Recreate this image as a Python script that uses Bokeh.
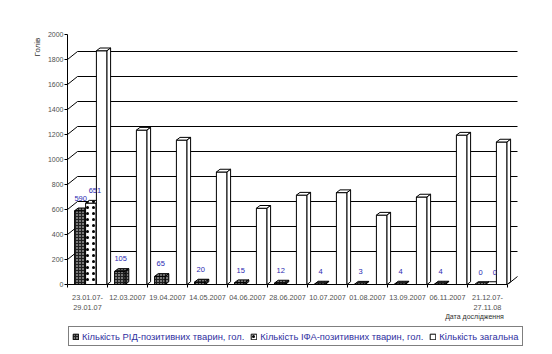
from bokeh.plotting import figure
from bokeh.layouts import column
from bokeh.models import (Range1d, FixedTicker, Legend, LegendItem,
                          ColumnDataSource, LinearAxis)
from bokeh.core.properties import value
from bokeh.embed import file_html
from bokeh.resources import INLINE

# ---------------- data ----------------
categories = ["23.01.07-\n29.01.07", "12.03.2007", "19.04.2007", "14.05.2007",
              "04.06.2007", "28.06.2007", "10.07.2007", "01.08.2007",
              "13.09.2007", "06.11.2007", "21.12.07-\n27.11.08"]
rid_positive = [590, 105, 65, 20, 15, 12, 4, 3, 4, 4, 0]
ifa_positive = [651, None, None, None, None, None, None, None, None, None, 0]
total_count = [1870, 1235, 1155, 900, 610, 715, 735, 555, 700, 1195, 1140]
y_ticks = [0, 200, 400, 600, 800, 1000, 1200, 1400, 1600, 1800, 2000]
series_names = ["Кількість РІД-позитивних тварин, гол.",
                "Кількість ІФА-позитивних тварин, гол.",
                "Кількість загальна"]
y_title = "Голів"
x_title = "Дата дослідження"

# ---------------- layout / style constants ----------------
FONT = "Liberation Sans"
n = len(categories)
bar_w = 0.265
offsets = [0.31, 0.585, 0.855]
ddx, ddy = 0.09, 22          # bar depth (data units)
wdx, wdy = 0.25, 64          # wall depth (data units)

STYLES = [
    dict(fill_color="#202020", line_color="black", hatch_pattern=".",
         hatch_color="white", hatch_scale=3, hatch_weight=1),
    dict(fill_color="white", line_color="black", hatch_pattern=".",
         hatch_color="black", hatch_scale=6, hatch_weight=1),
    dict(fill_color="white", line_color="black"),
]

p = figure(width=552, height=326, frame_width=458, frame_height=264,
           output_backend="svg", toolbar_location=None,
           x_range=Range1d(0, 11.45), y_range=Range1d(0, 2112),
           min_border_left=67, min_border_right=27, min_border_top=20,
           min_border_bottom=42, x_axis_type=None, y_axis_type=None)
p.outline_line_color = None
p.xgrid.visible = False
p.ygrid.visible = False

# back wall grid lines + diagonal connectors
grid_vals = [v for v in y_ticks if 0 < v < y_ticks[-1]]
p.segment(x0=[0] * len(grid_vals), y0=grid_vals,
          x1=[wdx] * len(grid_vals), y1=[v + wdy for v in grid_vals],
          line_color="black", line_width=1)
p.segment(x0=[wdx] * len(grid_vals), y0=[v + wdy for v in grid_vals],
          x1=[n + wdx] * len(grid_vals), y1=[v + wdy for v in grid_vals],
          line_color="black", line_width=1)
p.segment(x0=[n], y0=[0], x1=[n + wdx], y1=[wdy], line_color="black", line_width=1)


def draw_series(vals, off, style):
    idx = [i for i, v in enumerate(vals) if v is not None]
    xs = [i + off for i in idx]
    tops = [vals[i] for i in idx]
    src = ColumnDataSource(dict(x=xs, top=tops))
    p.vbar(x="x", top="top", bottom=0, width=bar_w, source=src, line_width=1, **style)
    top_xs, top_ys, side_xs, side_ys = [], [], [], []
    for x, t in zip(xs, tops):
        x0, x1 = x - bar_w / 2, x + bar_w / 2
        top_xs.append([x0, x1, x1 + ddx, x0 + ddx])
        top_ys.append([t, t, t + ddy, t + ddy])
        side_xs.append([x1, x1 + ddx, x1 + ddx, x1])
        side_ys.append([0, ddy, t + ddy, t])
    p.patches(top_xs, top_ys, line_width=1, **style)
    p.patches(side_xs, side_ys, line_width=1, **style)
    return xs, tops


x1s, t1s = draw_series(rid_positive, offsets[0], STYLES[0])
x2s, t2s = draw_series(ifa_positive, offsets[1], STYLES[1])
draw_series(total_count, offsets[2], STYLES[2])

# data labels
lab_kw = dict(text_font=value(FONT), text_font_size="7.5px", text_align="center",
              text_baseline="bottom", text_color="#2a2ab0")
p.text(x=[x + 0.02 for x in x1s], y=[t + 80 for t in t1s],
       text=[str(t) for t in t1s], **lab_kw)
p.text(x=[x + 0.1 for x in x2s], y=[t + 80 for t in t2s],
       text=[str(t) for t in t2s], **lab_kw)


def bare(axis):
    axis.axis_line_color = None
    axis.major_tick_line_color = None
    axis.minor_tick_line_color = None
    axis.major_tick_out = 0
    axis.major_tick_in = 0
    axis.minor_tick_out = 0
    axis.minor_tick_in = 0


# ---- y axis ----
yaxis = LinearAxis(ticker=FixedTicker(ticks=y_ticks, minor_ticks=[]),
                   bounds=(0, y_ticks[-1]))
yaxis.major_tick_out = 3
yaxis.major_tick_in = 0
yaxis.minor_tick_out = 0
yaxis.major_label_standoff = 1
yaxis.major_label_text_font = FONT
yaxis.major_label_text_font_size = "7px"
yaxis.major_label_text_color = "#505050"
yaxis.axis_line_color = "black"
p.add_layout(yaxis, "left")

# y title, placed near the top as a single tick label
ytitle_axis = LinearAxis(ticker=FixedTicker(ticks=[1900], minor_ticks=[]))
bare(ytitle_axis)
ytitle_axis.major_label_overrides = {1900: y_title}
ytitle_axis.major_label_orientation = "vertical"
ytitle_axis.major_label_standoff = 3
ytitle_axis.major_label_text_font = FONT
ytitle_axis.major_label_text_font_size = "8px"
ytitle_axis.major_label_text_color = "#303030"
p.add_layout(ytitle_axis, "left")

# ---- x axis ----
centers = [i + 0.5 for i in range(n)]
xaxis = LinearAxis(ticker=FixedTicker(ticks=centers, minor_ticks=list(range(n + 1))),
                   bounds=(0, n))
xaxis.major_label_overrides = {c: lab for c, lab in zip(centers, categories)}
xaxis.major_tick_out = 0
xaxis.major_tick_in = 0
xaxis.minor_tick_out = 3
xaxis.minor_tick_in = 0
xaxis.minor_tick_line_color = "black"
xaxis.major_label_standoff = 5
xaxis.major_label_text_font = FONT
xaxis.major_label_text_font_size = "7.3px"
xaxis.major_label_text_color = "#505050"
xaxis.axis_line_color = "black"
p.add_layout(xaxis, "below")

# x title at the right, as a single tick label of a second bottom axis
xtitle_axis = LinearAxis(ticker=FixedTicker(ticks=[10.175], minor_ticks=[]))
bare(xtitle_axis)
xtitle_axis.major_label_overrides = {10.175: x_title}
xtitle_axis.major_label_standoff = -3
xtitle_axis.major_label_text_font = FONT
xtitle_axis.major_label_text_font_size = "7px"
xtitle_axis.major_label_text_color = "#303030"
p.add_layout(xtitle_axis, "below")

# ---- legend strip under the chart ----
lg = figure(width=552, height=28, output_backend="svg", toolbar_location=None,
            x_range=Range1d(0, 1), y_range=Range1d(0, 1),
            min_border_left=67, min_border_right=0, min_border_top=0,
            min_border_bottom=0, x_axis_type=None, y_axis_type=None)
lg.outline_line_color = None
lg.xgrid.visible = False
lg.ygrid.visible = False
items = []
for name, style in zip(series_names, STYLES):
    # swatch renderers sit outside the visible range; only their legend glyphs show
    r = lg.vbar(x=[-5], top=[-5], bottom=-6, width=0.1, line_width=1, **style)
    items.append(LegendItem(label=name, renderers=[r]))
legend = Legend(items=items, orientation="horizontal", location=(1, 8),
                border_line_color="black", border_line_width=1,
                padding=3, spacing=6, label_standoff=3,
                glyph_width=7, glyph_height=7, label_height=12,
                label_text_font=FONT, label_text_font_size="9.4px",
                label_text_color="#3030a0", margin=0)
lg.add_layout(legend)

layout = column(p, lg, spacing=0)
open("out.html", "w").write(file_html(layout, INLINE))
